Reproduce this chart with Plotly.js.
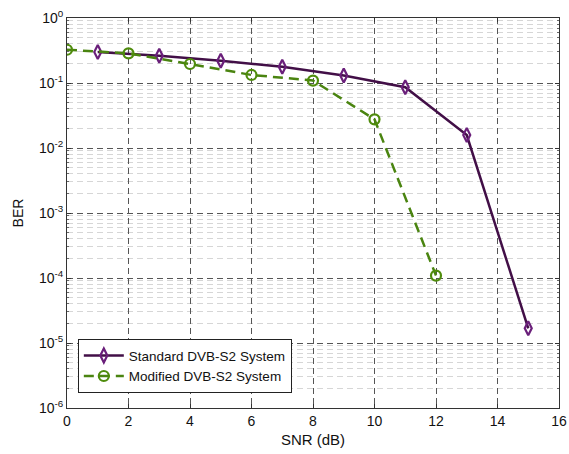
<!DOCTYPE html>
<html><head><meta charset="utf-8">
<script src="https://cdn.plot.ly/plotly-3.0.1.min.js"></script>
<style>html,body{margin:0;padding:0;background:#fff;}#chart{width:569px;height:454px;}</style>
</head><body><div id="chart"></div>
<script>
const snrStandard = [1, 3, 5, 7, 9, 11, 13, 15];
const berStandard = [0.30, 0.263, 0.22, 0.178, 0.13, 0.086, 0.0158, 1.68e-5];
const snrModified = [0, 2, 4, 6, 8, 10, 12];
const berModified = [0.325, 0.286, 0.196, 0.133, 0.109, 0.0276, 1.09e-4];
const yTickVals = [1e-6, 1e-5, 1e-4, 1e-3, 1e-2, 1e-1, 1];
const yTickText = ['10<sup>-6</sup>', '10<sup>-5</sup>', '10<sup>-4</sup>', '10<sup>-3</sup>', '10<sup>-2</sup>', '10<sup>-1</sup>', '10<sup>0</sup>'];
const xTickVals = [0, 2, 4, 6, 8, 10, 12, 14, 16];

const traces = [
  {x: snrStandard, y: berStandard, name: 'Standard DVB-S2 System', type: 'scatter', mode: 'lines+markers',
   line: {color: '#420f47', width: 2.5},
   marker: {symbol: 'diamond-tall-open', size: 10, color: '#6a1f7a', line: {width: 2.2, color: '#6a1f7a'}}},
  {x: snrModified, y: berModified, name: 'Modified DVB-S2 System', type: 'scatter', mode: 'lines+markers',
   line: {color: '#4a8410', width: 2.5, dash: '10px,6px'},
   marker: {symbol: 'circle-open', size: 10, color: '#4f8c0c', line: {width: 2.2, color: '#4f8c0c'}}}
];
const layout = {
  width: 569, height: 454,
  margin: {l: 67, r: 10, t: 18, b: 46},
  paper_bgcolor: '#fff', plot_bgcolor: '#fff',
  font: {family: 'Liberation Sans, Arial, sans-serif', size: 14, color: '#111'},
  showlegend: true,
  legend: {x: 0.022, y: 0.038, xanchor: 'left', yanchor: 'bottom', bgcolor: '#fff', bordercolor: '#222', borderwidth: 1,
           font: {size: 13.5, color: '#111'}, tracegroupgap: 0, itemwidth: 40},
  xaxis: {range: [0, 16], tickvals: xTickVals, showline: true, linecolor: '#333', linewidth: 1, mirror: 'ticks',
          ticks: 'inside', ticklen: 4, tickcolor: '#333', showgrid: true, gridcolor: '#555', griddash: '6px,4px', gridwidth: 1,
          zeroline: false, title: {text: 'SNR (dB)', font: {size: 15}, standoff: 6}},
  yaxis: {type: 'log', range: [-6, 0], tickvals: yTickVals, ticktext: yTickText, showline: true, linecolor: '#333', linewidth: 1,
          mirror: 'ticks', ticks: 'inside', ticklen: 4, tickcolor: '#333', showgrid: true, gridcolor: '#555', griddash: '6px,4px',
          zeroline: false, title: {text: 'BER', font: {size: 14}, standoff: 12},
          minor: {dtick: 'D1', showgrid: true, gridcolor: '#d6d6d6', griddash: '6px,4px', ticks: 'inside', ticklen: 2, tickcolor: '#666'}}
};
Plotly.newPlot('chart', traces, layout, {staticPlot: true, displayModeBar: false});
</script></body></html>
